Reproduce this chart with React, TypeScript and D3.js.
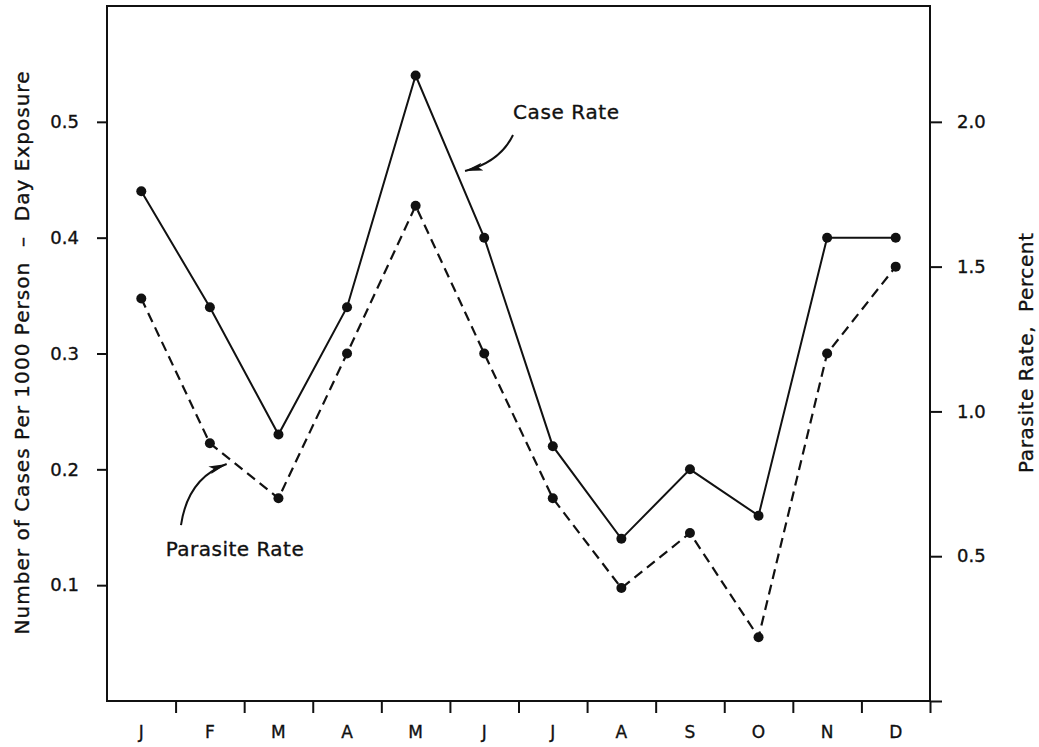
import React, { useRef, useEffect } from 'react';
import * as d3 from 'd3';

// Monthly values
const months = ['J', 'F', 'M', 'A', 'M', 'J', 'J', 'A', 'S', 'O', 'N', 'D'];
const caseRate = [0.44, 0.34, 0.23, 0.34, 0.54, 0.40, 0.22, 0.14, 0.20, 0.16, 0.40, 0.40];
const parasiteRate = [1.39, 0.89, 0.70, 1.20, 1.71, 1.20, 0.70, 0.39, 0.58, 0.22, 1.20, 1.50];

const leftTicks = [0.1, 0.2, 0.3, 0.4, 0.5];
const rightTicks = [0, 0.5, 1.0, 1.5, 2.0];

const leftTitle = 'Number of Cases Per 1000 Person  \u2013  Day Exposure';
const rightTitle = 'Parasite Rate,  Percent';

// annotation anchors in data units: [month position, case-rate value]
const caseLabel = [5.92, 0.5025];
const caseArrow = [[5.92, 0.4886], [5.73, 0.4653], [5.22, 0.4575]];
const parasiteLabel = [0.856, 0.1252];
const parasiteArrow = [[1.079, 0.1519], [1.181, 0.1925], [1.745, 0.2046]];

const App = () => {
  const ref = useRef(null);

  useEffect(() => {
    const root = d3.select(ref.current);
    root.selectAll('*').remove();

    const W = 1039;
    const H = 747;
    const margin = { top: 6, right: 109, bottom: 46, left: 107 };
    const width = W - margin.left - margin.right;
    const height = H - margin.top - margin.bottom;
    const ink = '#111';
    const font = '"DejaVu Sans", "Liberation Sans", sans-serif';

    const svg = root
      .append('svg')
      .attr('width', W)
      .attr('height', H)
      .style('position', 'absolute')
      .style('left', 0)
      .style('top', 0)
      .style('background', '#fff');

    const g = svg.append('g').attr('transform', `translate(${margin.left},${margin.top})`);

    const xLin = d3.scaleLinear().domain([0, 12]).range([0, width]);
    const xBand = d3.scaleBand().domain(d3.range(12).map(String)).range([0, width]);
    const yLeft = d3.scaleLinear().domain([0, 0.6]).range([height, 0]);
    const yRight = d3.scaleLinear().domain([0, 2.4]).range([height, 0]);
    const cx = (i) => xBand(String(i)) + xBand.bandwidth() / 2;

    const textStyle = (sel, size) =>
      sel
        .attr('fill', ink)
        .attr('stroke', ink)
        .attr('stroke-width', 0.35)
        .style('font-family', font)
        .style('font-size', size);

    // frame
    g.append('rect')
      .attr('width', width)
      .attr('height', height)
      .attr('fill', 'none')
      .attr('stroke', ink)
      .attr('stroke-width', 2);

    // axes
    const left = g
      .append('g')
      .call(d3.axisLeft(yLeft).tickValues(leftTicks).tickFormat(d3.format('.1f')).tickSize(10).tickPadding(18).tickSizeOuter(0));
    const right = g
      .append('g')
      .attr('transform', `translate(${width},0)`)
      .call(
        d3.axisRight(yRight).tickValues(rightTicks).tickFormat((d) => (d === 0 ? '' : d3.format('.1f')(d))).tickSize(12).tickPadding(15).tickSizeOuter(0)
      );
    const bottom = g
      .append('g')
      .attr('transform', `translate(0,${height})`)
      .call(d3.axisBottom(xLin).tickValues(d3.range(1, 13)).tickFormat(() => '').tickSize(12).tickSizeOuter(0));

    [left, right, bottom].forEach((a) => {
      a.select('.domain').remove();
      a.selectAll('line').attr('stroke', ink).attr('stroke-width', 2);
      textStyle(a.selectAll('text'), '18px');
    });

    // month labels centred in each band
    textStyle(
      g.append('g')
        .selectAll('text')
        .data(months)
        .join('text')
        .attr('x', (d, i) => cx(i))
        .attr('y', height + 37)
        .attr('text-anchor', 'middle')
        .text((d) => d),
      '17px'
    );

    // case rate: solid line
    const caseLine = d3
      .line()
      .x((d, i) => cx(i))
      .y((d) => yLeft(d));
    g.append('path')
      .datum(caseRate)
      .attr('d', caseLine)
      .attr('fill', 'none')
      .attr('stroke', ink)
      .attr('stroke-width', 2);

    // parasite rate: dashed line
    const parLine = d3
      .line()
      .x((d, i) => cx(i))
      .y((d) => yRight(d));
    g.append('path')
      .datum(parasiteRate)
      .attr('d', parLine)
      .attr('fill', 'none')
      .attr('stroke', ink)
      .attr('stroke-width', 2.2)
      .attr('stroke-dasharray', '10,6');

    g.append('g')
      .selectAll('circle')
      .data(caseRate)
      .join('circle')
      .attr('cx', (d, i) => cx(i))
      .attr('cy', (d) => yLeft(d))
      .attr('r', 5)
      .attr('fill', ink);

    g.append('g')
      .selectAll('circle')
      .data(parasiteRate)
      .join('circle')
      .attr('cx', (d, i) => cx(i))
      .attr('cy', (d) => yRight(d))
      .attr('r', 5)
      .attr('fill', ink);

    // arrowhead marker
    svg
      .append('defs')
      .append('marker')
      .attr('id', 'dart')
      .attr('markerUnits', 'userSpaceOnUse')
      .attr('markerWidth', 20)
      .attr('markerHeight', 10)
      .attr('refX', 18)
      .attr('refY', 5)
      .attr('orient', 'auto')
      .append('path')
      .attr('d', 'M0,1 L18,5 L0,9 L4,5 Z')
      .attr('fill', ink);

    const pt = (p) => [xLin(p[0]), yLeft(p[1])];
    const curve = (pts) => {
      const [a, c, b] = pts.map(pt);
      return `M${a[0]},${a[1]} Q${c[0]},${c[1]} ${b[0]},${b[1]}`;
    };

    [caseArrow, parasiteArrow].forEach((arr) =>
      g.append('path')
        .attr('d', curve(arr))
        .attr('fill', 'none')
        .attr('stroke', ink)
        .attr('stroke-width', 2)
        .attr('marker-end', 'url(#dart)')
    );

    textStyle(
      g.append('text')
        .attr('x', pt(caseLabel)[0])
        .attr('y', pt(caseLabel)[1])
        .attr('textLength', 106)
        .attr('lengthAdjust', 'spacing')
        .text('Case Rate'),
      '20px'
    );

    textStyle(
      g.append('text')
        .attr('x', pt(parasiteLabel)[0])
        .attr('y', pt(parasiteLabel)[1])
        .attr('textLength', 138)
        .attr('lengthAdjust', 'spacing')
        .text('Parasite Rate'),
      '20px'
    );

    // axis titles
    textStyle(
      svg.append('text')
        .attr('transform', `translate(29,353) rotate(-90)`)
        .attr('text-anchor', 'middle')
        .attr('textLength', 563)
        .attr('lengthAdjust', 'spacing')
        .style('white-space', 'pre')
        .text(leftTitle),
      '20px'
    );

    textStyle(
      svg.append('text')
        .attr('transform', `translate(1033,353) rotate(-90)`)
        .attr('text-anchor', 'middle')
        .attr('textLength', 240)
        .attr('lengthAdjust', 'spacing')
        .style('white-space', 'pre')
        .text(rightTitle),
      '20px'
    );
  }, []);

  return <div ref={ref} />;
};

export default App;
